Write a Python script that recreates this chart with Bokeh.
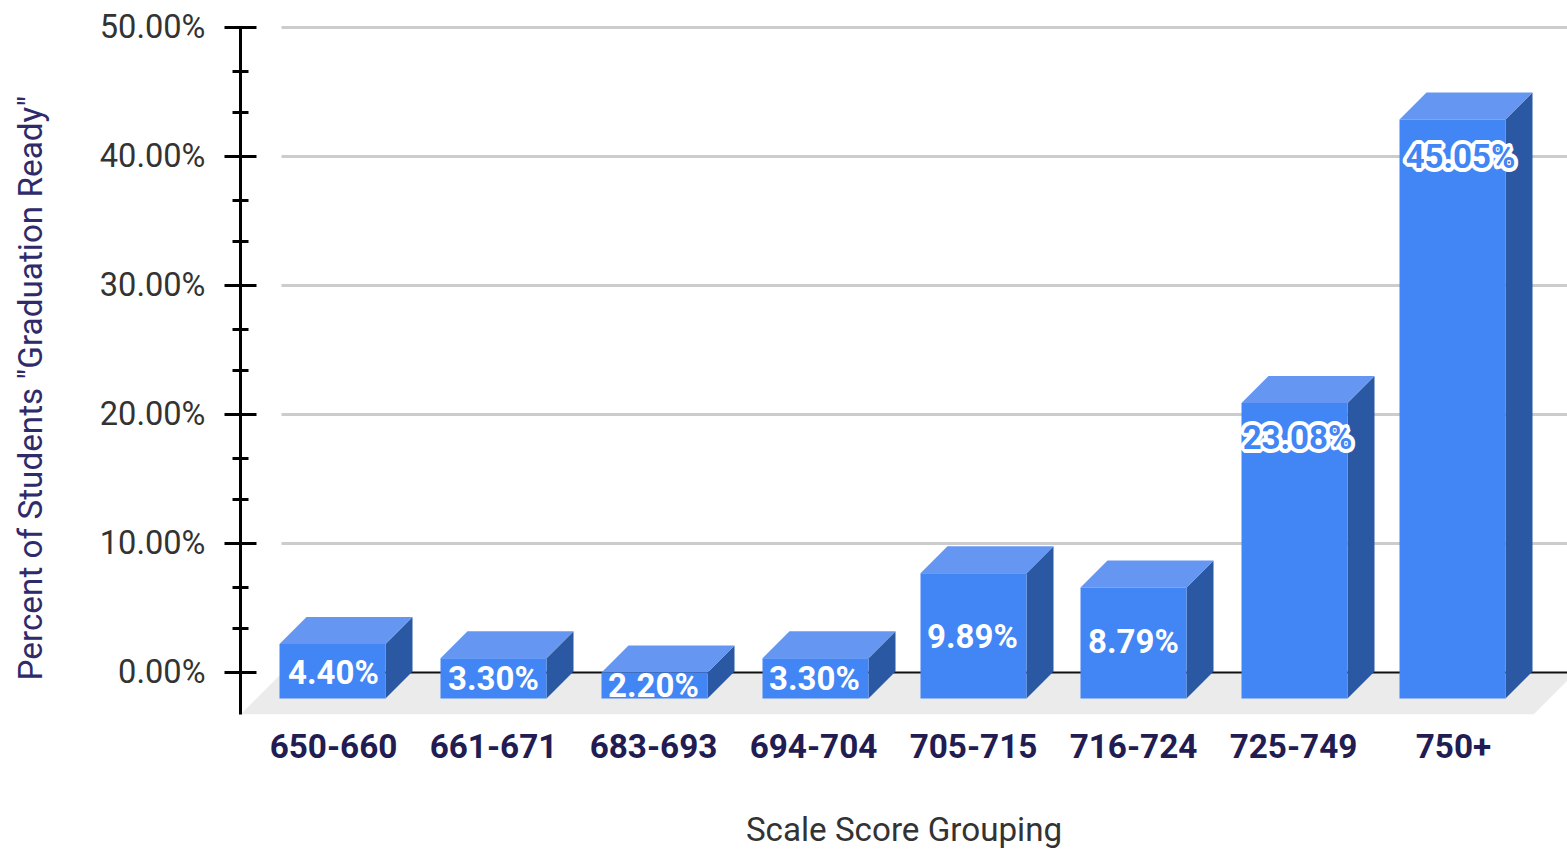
from bokeh.embed import file_html
from bokeh.resources import INLINE
from bokeh.plotting import figure
from bokeh.models import ColumnDataSource, FixedTicker, PrintfTickFormatter, Title
from bokeh.core.properties import value

categories = ["650-660", "661-671", "683-693", "694-704", "705-715", "716-724", "725-749", "750+"]
percent = [4.40, 3.30, 2.20, 3.30, 9.89, 8.79, 23.08, 45.05]
y_ticks = [0, 10, 20, 30, 40, 50]
y_minor_ticks = [3.4, 6.6, 13.4, 16.6, 23.4, 26.6, 33.4, 36.6, 43.4, 46.6]

FRONT, TOP, SIDE = "#4285f4", "#6596f1", "#2b58a3"
PX_X, PX_Y = 160.0, 12.9           # pixels per category, pixels per percent
HALF = 53 / PX_X                   # half the width of a bar's front face
DX, DY = 27 / PX_X, 27 / PX_Y      # depth of the 3D extrusion
DROP = 28.3 / PX_Y                 # front face sits below the axis plane
BASE = -26 / PX_Y                  # front face base

xs = list(range(len(categories)))
bar_nudge = [-1, 0, 1, 2, 0, 0, 1, -1]
bar_x = [x + n / PX_X for x, n in zip(xs, bar_nudge)]
front_top = [v - DROP for v in percent]
x_start, x_end = (240 - 333) / PX_X, (1567 - 333) / PX_X
y_start, y_end = -42 / PX_Y, 51

p = figure(width=1567, height=852, output_backend="svg", toolbar_location=None,
           x_range=(x_start, x_end), y_range=(y_start, y_end),
           min_border_left=240, min_border_right=0, min_border_top=14, min_border_bottom=138,
           background_fill_color="white", border_fill_color="white", outline_line_color=None)
p.xgrid.visible = False
p.ygrid.visible = False

# floor
fl, fr = x_start, 7.5
p.patch([fl, fl + 42 / PX_X, fr + 42 / PX_X, fr], [y_start, 0, 0, y_start], fill_color="#ebebeb", line_color=None)

# gridlines
grid_x0 = (281 - 333) / PX_X
grid_vals = [t for t in y_ticks if t != 0]
p.segment(x0=[grid_x0] * len(grid_vals), x1=[x_end] * len(grid_vals), y0=grid_vals, y1=grid_vals,
          line_color="#cccccc", line_width=3)
p.segment(x0=[grid_x0], x1=[x_end], y0=[0], y1=[0], line_color="#111111", line_width=2)

# 3D bars
p.patches([[x + HALF, x + HALF + DX, x + HALF + DX, x + HALF] for x in bar_x],
          [[BASE, BASE + DY, t + DY, t] for t in front_top],
          fill_color=SIDE, line_color=None)
p.patches([[x - HALF, x - HALF + DX, x + HALF + DX, x + HALF] for x in bar_x],
          [[t, t + DY, t + DY, t] for t in front_top],
          fill_color=TOP, line_color=None)
p.quad(left=[x - HALF for x in bar_x], right=[x + HALF for x in bar_x], bottom=[BASE] * len(xs), top=front_top,
       fill_color=FRONT, line_color=None)

# value labels
label_dx = [0, 0, 0, 1, -1, 0, 4, 7]
label_dy = [28, 20, 13, 20, 63, 54, 34, 37]
src = ColumnDataSource(dict(
    x=xs, y=front_top, text=[f"{v:.2f}%" for v in percent],
    dx=label_dx, dy=label_dy,
    color=["white"] * 6 + [FRONT, FRONT],
))
halo = ColumnDataSource(dict(x=xs[6:], y=front_top[6:], text=[f"{v:.2f}%" for v in percent[6:]],
                             dx=label_dx[6:], dy=label_dy[6:]))
p.text("x", "y", text="text", source=halo, x_offset="dx", y_offset="dy",
       text_color="white", text_outline_color="white",
       border_line_color="white", border_line_alpha=0.004, border_line_width=8,
       text_font=value("Roboto"), text_font_style="bold", text_font_size="33px",
       text_align="center", text_baseline="middle")
p.text("x", "y", text="text", source=src, x_offset="dx", y_offset="dy",
       text_color="color",
       text_font=value("Roboto"), text_font_style="bold", text_font_size="33px",
       text_align="center", text_baseline="middle")

# axes
ya = p.yaxis[0]
ya.bounds = (y_start, 50)
ya.ticker = FixedTicker(ticks=y_ticks, minor_ticks=y_minor_ticks)
ya.formatter = PrintfTickFormatter(format="%.2f%%")
ya.axis_line_color = "black"; ya.axis_line_width = 3
ya.major_tick_line_color = "black"; ya.major_tick_line_width = 3
ya.major_tick_in = 16; ya.major_tick_out = 16
ya.minor_tick_line_color = "black"; ya.minor_tick_line_width = 3
ya.minor_tick_in = 8; ya.minor_tick_out = 8
ya.major_label_text_font = "Roboto"; ya.major_label_text_font_size = "32.6px"
ya.major_label_text_color = "#333333"; ya.major_label_standoff = 19

xa = p.xaxis[0]
xa.ticker = FixedTicker(ticks=xs)
xa.major_label_overrides = {x: c for x, c in zip(xs, categories)}
xa.axis_line_color = None; xa.major_tick_line_color = None; xa.minor_tick_line_color = None
xa.major_tick_in = 0; xa.major_tick_out = 0
xa.major_label_text_font = "Roboto"; xa.major_label_text_font_style = "bold"
xa.major_label_text_font_size = "33.3px"; xa.major_label_text_color = "#211c52"
xa.major_label_standoff = 19
xa.axis_label = "Scale Score Grouping"
xa.axis_label_text_font = "Roboto"; xa.axis_label_text_font_style = "normal"
xa.axis_label_text_font_size = "33.2px"; xa.axis_label_text_color = "#333333"
xa.axis_label_standoff = 49

# a blank panel keeps the axis title out at the page's left edge
p.add_layout(Title(text=" ", standoff=44, text_font_size="1px"), "left")
p.add_layout(Title(text='Percent of Students "Graduation Ready"', align="left", offset=34, standoff=0,
                   text_font="Roboto", text_font_size="33.3px", text_font_style="normal",
                   text_color="#2f2b6b"), "left")

open("out.html", "w").write(file_html(p, INLINE))
